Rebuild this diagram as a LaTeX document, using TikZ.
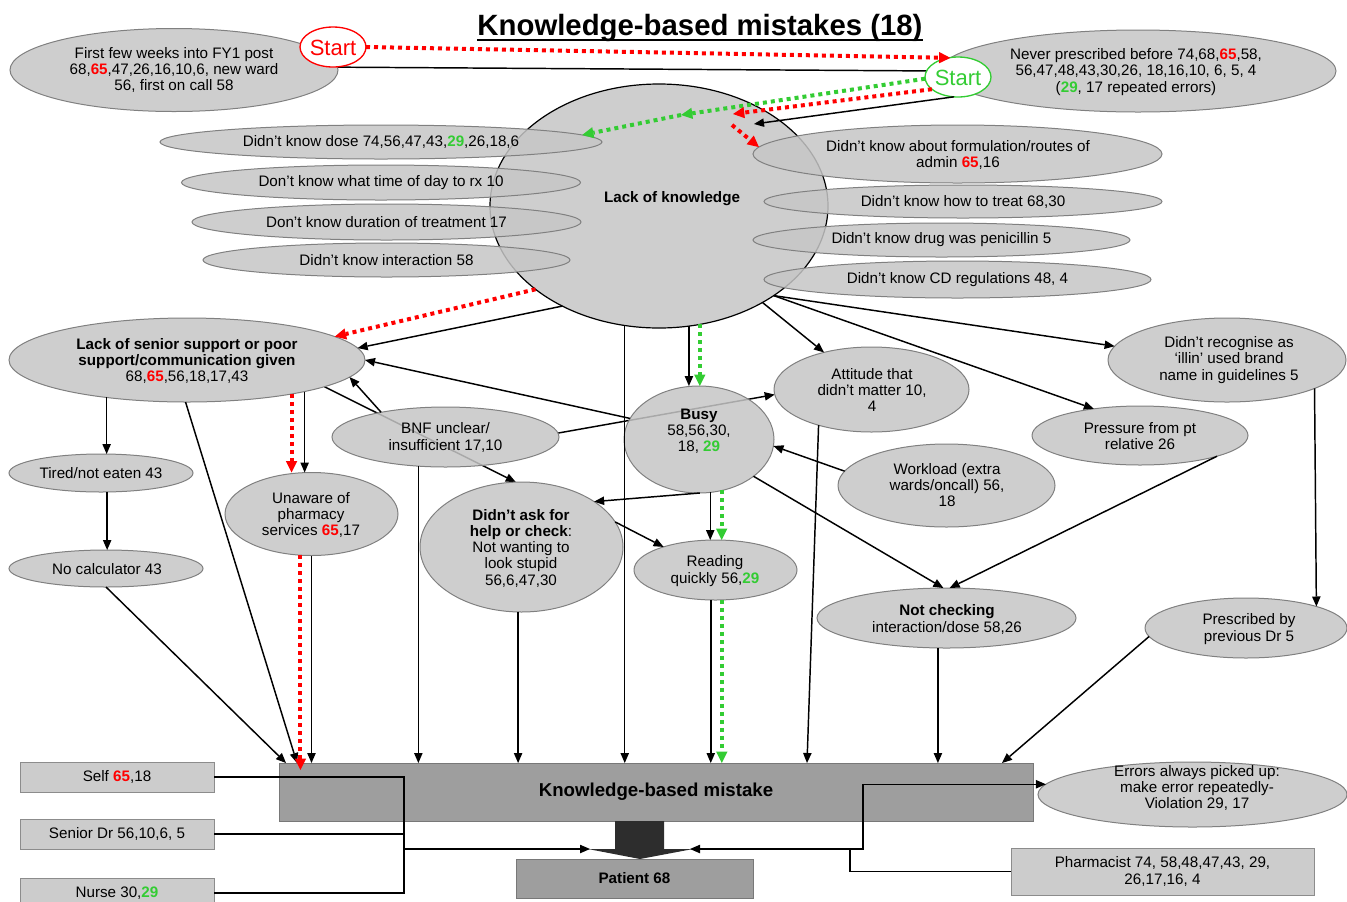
\documentclass[tikz,border=0pt]{standalone}
\usepackage{fontspec}
\setmainfont{Liberation Sans}
\usetikzlibrary{shapes.geometric,arrows.meta}
\pgfdeclarelayer{back}
\pgfdeclarelayer{front}
\pgfsetlayers{back,main,front}
\definecolor{ellfill}{RGB}{198,198,198}
\definecolor{ellline}{RGB}{128,128,128}
\definecolor{boxfill}{RGB}{204,204,204}
\definecolor{boxline}{RGB}{140,140,140}
\definecolor{darkfill}{RGB}{158,158,158}
\definecolor{darkline}{RGB}{120,120,120}
\definecolor{blockfill}{RGB}{45,45,45}
\definecolor{kred}{RGB}{255,0,0}
\definecolor{kgreen}{RGB}{51,204,51}
\newcommand{\redn}[1]{\textcolor{kred}{\textbf{#1}}}
\newcommand{\grn}[1]{\textcolor{kgreen}{\textbf{#1}}}
\tikzset{
  sz/.style 2 args={minimum width=#1*0.75pt, minimum height=#2*0.75pt},
  ell/.style={ellipse, draw=ellline, line width=0.75pt, fill=ellfill, fill opacity=0.85, inner sep=0pt, outer sep=0pt},
  startst/.style={ellipse, fill=white, line width=1pt, inner sep=0pt, outer sep=0pt, sz={66}{40}},
  tx/.style={align=center, inner sep=0pt, font=\fontsize{11.4}{12.2}\selectfont},
  txb/.style={tx, font=\fontsize{11.4}{12.2}\selectfont\bfseries},
  kbox/.style={rectangle, draw=boxline, line width=0.75pt, fill=boxfill, inner sep=0pt, outer sep=0pt, align=center, font=\fontsize{11.4}{12.2}\selectfont},
  dbox/.style={kbox, draw=darkline, fill=darkfill},
  btip/.style={-{Triangle[length=7.5pt,width=6.5pt,line width'=0pt]}},
  ctip/.style={-{Triangle[length=8.5pt,width=8.5pt,line width'=0pt]}},
  ln/.style={draw=black, line width=1.1pt},
  arr/.style={ln, btip},
  reddot/.style={draw=kred, line width=3pt, dash pattern=on 3pt off 3pt, ctip},
  grndot/.style={draw=kgreen, line width=3pt, dash pattern=on 3pt off 3pt, ctip},
}
\begin{document}
\begin{tikzpicture}[x=0.75pt, y=-0.75pt]
\useasboundingbox (0,0) rectangle (1347,901);

% title
\node[font=\fontsize{22}{24}\selectfont\bfseries, inner sep=0pt, anchor=base] (title) at (700,35) {Knowledge-based mistakes (18)};
\draw[line width=2pt] ([yshift=-3.8pt]title.base west) -- ([yshift=-3.8pt]title.base east);

% central cause
\node[ell, draw=black, line width=0.9pt, sz={338}{244}] (lk) at (659,206) {};
\node[txb] (lk-t) at (672,199) {Lack of knowledge};

% top row
\node[ell, sz={328}{83}] (first) at (174,70) {};
\node[tx] (first-t) at (174,70) {First few weeks into FY1 post\\68,\redn{65},47,26,16,10,6, new ward\\56, first on call 58};
\node[ell, sz={396}{82}] (never) at (1138,71) {};
\node[tx] (never-t) at (1136,72) {Never prescribed before 74,68,\redn{65},58,\\56,47,48,43,30,26, 18,16,10, 6, 5, 4\\(\grn{29}, 17 repeated errors)};

% knowledge gaps, left
\node[ell, sz={442}{34}] (dose) at (381,142) {};
\node[tx] (dose-t) at (381,142) {Didn’t know dose 74,56,47,43,\grn{29},26,18,6};
\node[ell, sz={399}{35}] (time) at (381,182.5) {};
\node[tx] (time-t) at (381,182.5) {Don’t know what time of day to rx 10};
\node[ell, sz={389}{36}] (dur) at (386.5,222) {};
\node[tx] (dur-t) at (386.5,222) {Don’t know duration of treatment 17};
\node[ell, sz={367}{34}] (inter) at (386.5,260) {};
\node[tx] (inter-t) at (386.5,260) {Didn’t know interaction 58};

% knowledge gaps, right
\node[ell, sz={409}{58}] (form) at (957.5,154) {};
\node[tx] (form-t) at (958,155) {Didn’t know about formulation/routes of\\admin \redn{65},16};
\node[ell, sz={398}{33}] (treat) at (963,201.5) {};
\node[tx] (treat-t) at (963,201.5) {Didn’t know how to treat 68,30};
\node[ell, sz={377}{34}] (pen) at (941.5,240) {};
\node[tx] (pen-t) at (941.5,240) {Didn’t know drug was penicillin 5};
\node[ell, sz={387}{37}] (cd) at (957.5,279.5) {};
\node[tx] (cd-t) at (957.5,279.5) {Didn’t know CD regulations 48, 4};

% contributing factors
\node[ell, sz={356}{84}] (senior) at (187,360) {};
\node[tx] (senior-t) at (187,361) {\textbf{Lack of senior support or poor}\\\textbf{support/communication given}\\68,\redn{65},56,18,17,43};
\node[ell, sz={184}{38}] (tired) at (101,473) {};
\node[tx] (tired-t) at (101,473) {Tired/not eaten 43};
\node[ell, sz={194}{37}] (nocalc) at (106,568.5) {};
\node[tx] (nocalc-t) at (107,569) {No calculator 43};
\node[ell, sz={173}{83}] (unaware) at (311.5,514) {};
\node[tx] (unaware-t) at (311,515) {Unaware of\\pharmacy\\services \redn{65},17};
\node[ell, sz={227}{60}] (bnf) at (445.5,437) {};
\node[tx] (bnf-t) at (445.5,437.5) {BNF unclear/\\insufficient 17,10};
\node[ell, sz={150}{107}] (busy) at (699,439.5) {};
\node[tx] (busy-t) at (699,431) {\textbf{Busy}\\58,56,30,\\18, \grn{29}};
\node[ell, sz={195}{85}] (att) at (871.5,389.5) {};
\node[tx] (att-t) at (872,390) {Attitude that\\didn’t matter 10,\\4};
\node[ell, sz={238}{84}] (recog) at (1227,360) {};
\node[tx] (recog-t) at (1229,360) {Didn’t recognise as\\‘illin’ used brand\\name in guidelines 5};
\node[ell, sz={216}{59}] (press) at (1140,435.5) {};
\node[tx] (press-t) at (1140,436) {Pressure from pt\\relative 26};
\node[ell, sz={217}{83}] (work) at (946.5,485.5) {};
\node[tx] (work-t) at (947,485) {Workload (extra\\wards/oncall) 56,\\18};
\node[ell, sz={203}{130}] (ask) at (521.5,547) {};
\node[tx] (ask-t) at (521,548) {\textbf{Didn’t ask for}\\\textbf{help or check}:\\Not wanting to\\look stupid\\56,6,47,30};
\node[ell, sz={163}{60}] (read) at (715.5,570) {};
\node[tx] (read-t) at (715,571) {Reading\\quickly 56,\grn{29}};
\node[ell, sz={259}{60}] (notc) at (946.5,618) {};
\node[tx] (notc-t) at (947,619.5) {\textbf{Not checking}\\interaction/dose 58,26};
\node[ell, sz={202}{60}] (prev) at (1246,628) {};
\node[tx] (prev-t) at (1249,629) {Prescribed by\\previous Dr 5};
\node[ell, sz={309}{65}] (errors) at (1192.5,794.5) {};
\node[tx] (errors-t) at (1197,788) {Errors always picked up:\\make error repeatedly-\\Violation 29, 17};

% outcome and who picked it up
\node[dbox, sz={754}{58}, font=\fontsize{14}{16}\selectfont\bfseries] (kbm) at (656,792) {Knowledge-based mistake};
\node[dbox, sz={237}{39}, font=\fontsize{11.4}{13}\selectfont\bfseries] (patient) at (634.5,878.5) {Patient 68};
\node[kbox, sz={194}{30}] (self) at (117,777) {Self \redn{65},18};
\node[kbox, sz={194}{30}] (sdr) at (117,834) {Senior Dr 56,10,6, 5};
\node[kbox, sz={194}{30}] (nurse) at (117,893) {Nurse 30,\grn{29}};
\node[kbox, sz={303}{47}] (pharm) at (1162.5,871.5) {Pharmacist 74, 58,48,47,43, 29,\\26,17,16, 4};

% block arrow from mistake to patient
\fill[blockfill] (615,821) -- (664,821) -- (664,849) -- (693,849) -- (640,859) -- (588,849) -- (615,849) -- cycle;
\coordinate (bl) at (590,849);
\coordinate (br) at (690,849);
\coordinate (jl) at (404,849);
\coordinate (jr) at (850,849);

% start markers
\node[startst, draw=kred] (startR) at (333,47) {};
\node[font=\fontsize{16.5}{18}\selectfont, text=kred, inner sep=0pt] (startR-t) at (333,48) {Start};
\node[startst, draw=kgreen] (startG) at (958,77) {};
\node[font=\fontsize{16.5}{18}\selectfont, text=kgreen, inner sep=0pt] (startG-t) at (958,78) {Start};

% free ends inside the central ellipse
\coordinate (k1) at (754,124);
\coordinate (g1) at (681,115);
\coordinate (r1) at (733,114);
\coordinate (r2) at (732,125);
\coordinate (rk) at (unaware.-105 |- kbm.north);

% connectors running behind ellipses
\begin{pgfonlayer}{back}
\draw[ln] (first.1) -- (never.west);
\draw[arr] (senior.-11) -- (ask.95);
\draw[arr] (bnf.2) -- (att.183);
\end{pgfonlayer}

\begin{pgfonlayer}{front}
% start paths
\draw[reddot] (startR.east) -- (never.176);
\draw[arr] (startG.-102) -- (k1);
\draw[grndot] (startG.183) -- (g1);
\draw[grndot] (g1) -- (dose.2);
\draw[reddot] (startG.205) -- (r1);
\draw[reddot] (r2) -- (form.178);

% from lack of knowledge
\draw[reddot] (lk.214.4) -- (senior.9);
\draw[arr] (lk.226.3) -- (senior.4.4);
\draw[arr] (lk.-106.3) -- (lk.-106.3 |- kbm.north);
\draw[arr] (lk.-76.4) -- (lk.-76.4 |- busy.north);
\draw[grndot] (lk.-71.4) -- (lk.-71.4 |- busy.north);
\draw[arr] (lk.-43.9) -- (att.142);
\draw[arr] (lk.-38.4) -- (press.150);
\draw[arr] (lk.-38.4) -- (recog.173);

% from senior support
\draw[arr] (senior.205) -- (senior.205 |- tired.north);
\draw[arr] (senior.-15.7) -- (senior.-15.7 |- unaware.north);
\draw[reddot] (senior.-18.4) -- (senior.-18.4 |- unaware.north);
\draw[arr] (senior.-92) -- ([xshift=13.5pt]kbm.north west);
\draw[arr] (tired.-72.5) -- (tired.-72.5 |- nocalc.north);
\draw[arr] (nocalc.south) -- ([xshift=5.25pt]kbm.north west);
\draw[arr] (unaware.south) -- (unaware.south |- kbm.north);
\draw[reddot] (unaware.-105) -- ([yshift=-5.25pt]rk);

% middle
\draw[arr] (bnf.-133) -- (bnf.-133 |- kbm.north);
\draw[arr] (bnf.159.6) -- (senior.-6.5);
\draw[arr] (busy.163) -- (senior.east);
\draw[arr] (busy.-78.3) -- (busy.-78.3 |- read.north);
\draw[grndot] (busy.-66.7) -- (busy.-66.7 |- read.north);
\draw[arr] (busy.-89) -- (ask.32);
\draw[arr] (busy.-34.8) -- (notc.96);
\draw[arr] (ask.-93) -- (ask.-93 |- kbm.north);
\draw[arr] (ask.15.8) -- (read.156);
\draw[arr] (read.-99.5) -- (read.-99.5 |- kbm.north);
\draw[grndot] (read.-78.7) -- (read.-78.7 |- kbm.north);

% right
\draw[arr] (att.-146) -- ([xshift=113.25pt]kbm.north);
\draw[arr] (work.172) -- (busy.-5);
\draw[arr] (press.-15) -- (notc.84);
\draw[arr] (notc.-106.7) -- (notc.-106.7 |- kbm.north);
\draw[arr] (recog.-18.4) -- (prev.17.3);
\draw[arr] (prev.185.5) -- ([xshift=-23.25pt]kbm.north east);

% who picked up the error
\draw[ln] (self.east) -| (jl);
\draw[ln] (nurse.east) -| (jl);
\draw[ln] (sdr.east) -- (sdr.east -| jl);
\draw[arr] (jl) -- (bl);
\draw[ln] (pharm.west) -| (jr);
\draw[arr] (jr) -- (br);
\draw[arr] (jr) -- ++(13,0) |- (errors.176);
\end{pgfonlayer}
\end{tikzpicture}
\end{document}
